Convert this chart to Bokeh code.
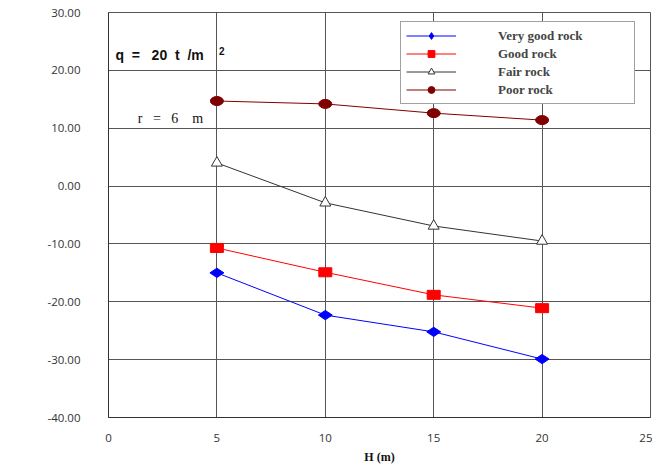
import numpy as np
from bokeh.plotting import figure
from bokeh.models import (ColumnDataSource, Legend, LegendItem, NumeralTickFormatter,
                          FixedTicker, Label, Range1d)
from bokeh.embed import file_html
from bokeh.resources import INLINE

H = [5, 10, 15, 20]
very_good = [-15.0, -22.3, -25.2, -29.9]
good = [-10.7, -14.9, -18.8, -21.1]
fair = [4.0, -2.9, -6.9, -9.5]
poor = [14.7, 14.2, 12.6, 11.4]
x_ticks = [0, 5, 10, 15, 20, 25]
y_ticks = [-40, -30, -20, -10, 0, 10, 20, 30]

NB = "\u00a0"

p = figure(width=650, height=460, output_backend="svg", toolbar_location=None,
           x_range=Range1d(0, 25), y_range=Range1d(-40, 30),
           min_border_left=108, min_border_right=2, min_border_top=12, min_border_bottom=43)
p.frame_width = 542
p.frame_height = 405
p.background_fill_color = "white"
p.outline_line_color = "#555555"
p.outline_line_width = 1

for ax in (p.xaxis[0], p.yaxis[0]):
    ax.major_tick_line_color = None
    ax.minor_tick_line_color = None
    ax.axis_line_color = "#333333"
    ax.major_label_text_font = "Open Sans"
    ax.major_label_text_font_size = "11.5px"
    ax.major_label_text_color = "#333333"
    ax.axis_label_text_font = "Liberation Serif"
    ax.axis_label_text_font_style = "bold"
    ax.axis_label_text_font_size = "12px"
    ax.axis_label_text_color = "#111111"

p.xaxis.ticker = FixedTicker(ticks=x_ticks)
p.yaxis.ticker = FixedTicker(ticks=y_ticks)
p.yaxis.formatter = NumeralTickFormatter(format="0.00")
p.xaxis.major_label_standoff = 10
p.yaxis.major_label_standoff = 22
p.xaxis.axis_label = "H (m)"
p.xaxis.axis_label_standoff = 5
p.xgrid.grid_line_color = "#555555"
p.ygrid.grid_line_color = "#555555"
p.xgrid.grid_line_width = 1
p.ygrid.grid_line_width = 1

src = ColumnDataSource(dict(x=H, vg=very_good, g=good, f=fair, pr=poor))
nan_src = ColumnDataSource(dict(x=[np.nan], y=[np.nan]))

l1 = p.line("x", "vg", source=src, line_color="#0000ff", line_width=1)
p.scatter("x", "vg", source=src, marker="diamond", size=14, angle=np.pi / 2,
          fill_color="#0000ff", line_color="#0000ff")
m1 = p.scatter("x", "y", source=nan_src, marker="diamond", size=14, angle=np.pi / 2,
               fill_color="#0000ff", line_color="#0000ff")
l2 = p.line("x", "g", source=src, line_color="#ff0000", line_width=1)
p.rect("x", "g", source=src, width=13, height=9, width_units="screen",
       height_units="screen", fill_color="#ff0000", line_color="#ff0000")
m2 = p.scatter("x", "y", source=nan_src, marker="square", size=9,
               fill_color="#ff0000", line_color="#ff0000")
l3 = p.line("x", "f", source=src, line_color="#333333", line_width=1)
m3 = p.scatter("x", "f", source=src, marker="triangle", size=11,
               fill_color="white", line_color="#333333")
l4 = p.line("x", "pr", source=src, line_color="#800000", line_width=1)
p.ellipse("x", "pr", source=src, width=13, height=9, width_units="screen",
          height_units="screen", fill_color="#800000", line_color="#800000")
m4 = p.scatter("x", "y", source=nan_src, marker="circle", size=10,
               fill_color="#800000", line_color="#800000")

legend = Legend(items=[
    LegendItem(label="Very good rock", renderers=[l1, m1]),
    LegendItem(label="Good rock", renderers=[l2, m2]),
    LegendItem(label="Fair rock", renderers=[l3, m3]),
    LegendItem(label="Poor rock", renderers=[l4, m4]),
], location=(292, 313))
legend.glyph_width = 50
legend.glyph_height = 17
legend.label_height = 17
legend.label_width = 131
legend.spacing = 1
legend.padding = 5
legend.margin = 0
legend.label_standoff = 42
legend.label_text_font = "Liberation Serif"
legend.label_text_font_style = "bold"
legend.label_text_font_size = "13px"
legend.border_line_color = "#444444"
legend.background_fill_alpha = 1
p.add_layout(legend, "center")

p.add_layout(Label(x=-86, y=200, x_units="screen", y_units="screen", text="(Pc)",
                   text_font="Liberation Serif", text_font_style="bold",
                   text_font_size="11px", text_color="#111111"))
p.add_layout(Label(x=0.32, y=21.3, text=f"q{NB*2}={NB*3}20{NB*2}t{NB*2}/m",
                   text_font="Liberation Sans", text_font_style="bold",
                   text_font_size="14px", text_color="#111111"))
p.add_layout(Label(x=5.1, y=22.6, text="2", text_font="Liberation Sans",
                   text_font_style="bold", text_font_size="10px", text_color="#111111"))
p.add_layout(Label(x=1.35, y=10.4, text=f"r{NB*3}={NB*3}6{NB*4}m",
                   text_font="Liberation Serif", text_font_size="14px",
                   text_color="#111111"))

open("out.html", "w").write(file_html(p, INLINE))
